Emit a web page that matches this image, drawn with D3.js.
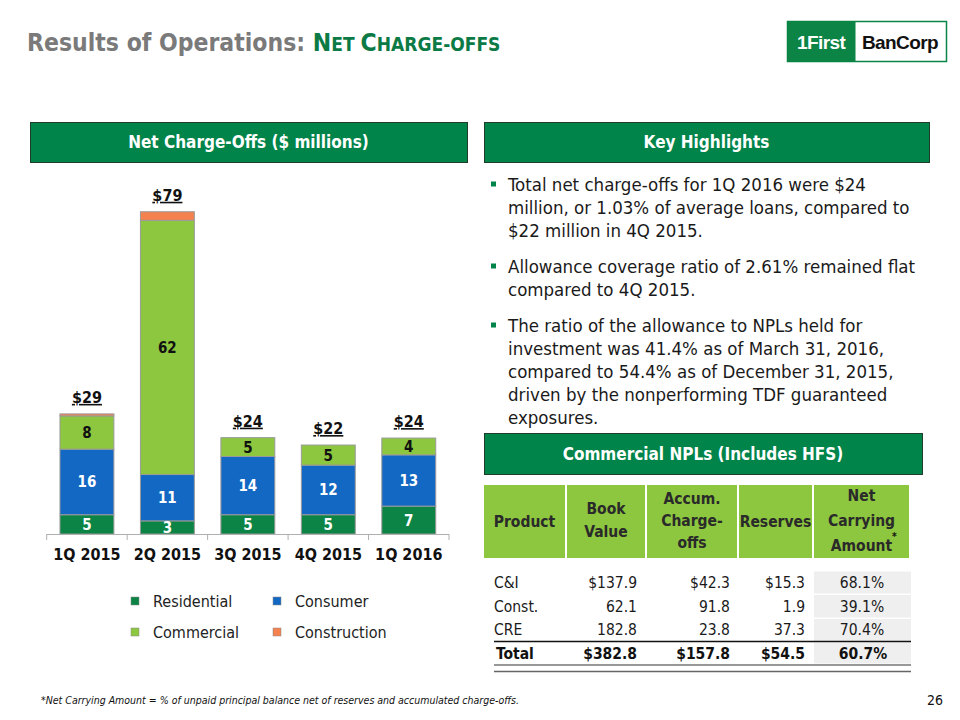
<!DOCTYPE html>
<html><head><meta charset="utf-8">
<script src="https://cdn.jsdelivr.net/npm/d3@7"></script>
<style>
html,body{margin:0;padding:0;background:#fff;}
svg{display:block;font-family:"DejaVu Sans Condensed","DejaVu Sans",sans-serif;}
</style></head>
<body>
<svg id="c" width="960" height="720"></svg>
<script>
// ---- data ----
const quarters = ["1Q 2015","2Q 2015","3Q 2015","4Q 2015","1Q 2016"];
const residential = [4.7, 3.2, 4.7, 4.7, 6.8];
const consumer = [16.0, 11.3, 14.2, 12.1, 12.5];
const commercial = [8.1, 62.0, 4.6, 4.9, 4.1];
const construction = [0.5, 2.1, 0.0, 0.0, 0.0];
const totalLabels = ["$29","$79","$24","$22","$24"];
const seriesNames = ["Residential","Consumer","Commercial","Construction"];
const seriesColors = ["#0B8445","#1368C3","#8DC63F","#F3824F"];
const labelColors = ["#fff","#fff","#111",null];

const bullets = [
  ["Total net charge-offs for 1Q 2016 were $24","million, or 1.03% of average loans, compared to","$22 million in 4Q 2015."],
  ["Allowance coverage ratio of 2.61% remained flat","compared to 4Q 2015."],
  ["The ratio of the allowance to NPLs held for","investment was 41.4% as of March 31, 2016,","compared to 54.4% as of December 31, 2015,","driven by the nonperforming TDF guaranteed","exposures."]
];

const tableHeaders = [["Product"],["Book","Value"],["Accum.","Charge-","offs"],["Reserves"],["Net","Carrying","Amount"]];
const products = ["C&I","Const.","CRE"];
const bookValue = ["$137.9","62.1","182.8"];
const accumChargeoffs = ["$42.3","91.8","23.8"];
const reserves = ["$15.3","1.9","37.3"];
const netCarrying = ["68.1%","39.1%","70.4%"];
const totalRow = ["Total","$382.8","$157.8","$54.5","60.7%"];

(function(){
const svg = d3.select("#c");
const green = "#00844A";

// ---- title ----
const title = svg.append("text").attr("x",27).attr("y",51).attr("font-weight","bold").attr("font-size",24.5);
title.append("tspan").attr("fill","#7a7a7a").text("Results of Operations: ");
const sc = [["N",24.5],["ET ",19],["C",24.5],["HARGE-OFFS",19]];
sc.forEach(([t,s])=>title.append("tspan").attr("fill","#0B7A45").attr("font-size",s).text(t));

// ---- logo ----
const logo = svg.append("g");
logo.append("rect").attr("x",787.5).attr("y",21.5).attr("width",159).attr("height",40).attr("fill","#fff").attr("stroke","#0B8445").attr("stroke-width",1.5);
logo.append("rect").attr("x",787.5).attr("y",21.5).attr("width",68).attr("height",40).attr("fill","#0B8445");
logo.append("text").attr("x",797).attr("y",48.5).attr("fill","#fff").attr("font-family","Liberation Sans, Arial, sans-serif").attr("font-weight","bold").attr("font-size",19).attr("letter-spacing",-0.6).text("1First");
logo.append("text").attr("x",862).attr("y",48.5).attr("fill","#111").attr("font-family","Liberation Sans, Arial, sans-serif").attr("font-weight","bold").attr("font-size",19).attr("letter-spacing",-0.6).text("BanCorp");

// ---- section header boxes ----
function headerBox(x,y,w,h,label){
  svg.append("rect").attr("x",x+0.5).attr("y",y+0.5).attr("width",w).attr("height",h).attr("fill",green).attr("stroke","#1f3d2b").attr("stroke-width",1);
  svg.append("text").attr("x",x+w/2).attr("y",y+h/2+6).attr("text-anchor","middle").attr("fill","#fff").attr("font-weight","bold").attr("font-size",17).text(label);
}
headerBox(30,122,437,40,"Net Charge-Offs ($ millions)");
headerBox(484,122,445,40,"Key Highlights");
headerBox(484,433,438,41,"Commercial NPLs (Includes HFS)");

// ---- stacked bar chart ----
const x = d3.scaleBand().domain(quarters).range([46.7,449]).paddingInner(0.33).paddingOuter(0.165);
const y = d3.scaleLinear().domain([0,80]).range([534,206]);
const seriesData = [residential, consumer, commercial, construction];
const rows = quarters.map((q,i)=>{const o={q}; seriesNames.forEach((s,k)=>o[s]=seriesData[k][i]); return o;});
const stack = d3.stack().keys(seriesNames)(rows);

const gBars = svg.append("g");
stack.forEach((layer,k)=>{
  gBars.selectAll(null).data(layer.filter(d=>d[1]-d[0]>0)).enter().append("rect")
    .attr("x",d=>x(d.data.q)).attr("width",x.bandwidth())
    .attr("y",d=>y(d[1])).attr("height",d=>y(d[0])-y(d[1]))
    .attr("fill",seriesColors[k]).attr("stroke","#9a9a9a").attr("stroke-width",1);
});
stack.forEach((layer,k)=>{
  if(!labelColors[k]) return;
  gBars.selectAll(null).data(layer).enter().append("text")
    .attr("x",d=>x(d.data.q)+x.bandwidth()/2)
    .attr("y",d=>(y(d[0])+y(d[1]))/2+5.5)
    .attr("text-anchor","middle").attr("font-weight","bold").attr("font-size",15)
    .attr("fill",labelColors[k]).text(d=>Math.round(d[1]-d[0]));
});
// totals
const topLayer = stack[stack.length-1];
gBars.selectAll(null).data(topLayer).enter().append("text")
  .attr("x",d=>x(d.data.q)+x.bandwidth()/2)
  .attr("y",(d,i)=>y(d[1])-11)
  .attr("text-anchor","middle").attr("font-weight","bold").attr("font-size",16)
  .attr("fill","#111").attr("text-decoration","underline")
  .text((d,i)=>totalLabels[i]);

// axis
const ax = svg.append("g").attr("transform","translate(0,534)")
  .call(d3.axisBottom(x).tickSize(0).tickPadding(15));
ax.select(".domain").attr("stroke","#b0b0b0").attr("d","M46.7,0.5H449");
ax.selectAll(".tick text").attr("font-size",16).attr("font-weight","bold").attr("fill","#111").attr("font-family","DejaVu Sans Condensed, DejaVu Sans, sans-serif");
const edges = [x.range()[0]].concat(quarters.map(q=>x(q)+x.bandwidth()+x.step()*x.paddingInner()/2));
svg.append("g").selectAll("line").data(edges).enter().append("line")
  .attr("x1",d=>d).attr("x2",d=>d).attr("y1",534).attr("y2",540).attr("stroke","#b0b0b0");

// legend
const legPos = [[135,601],[277,601],[135,632],[277,632]];
seriesNames.forEach((s,k)=>{
  const [lx,ly]=legPos[k];
  svg.append("rect").attr("x",lx-4).attr("y",ly-4).attr("width",8).attr("height",8).attr("fill",seriesColors[k]).attr("stroke","#888").attr("stroke-width",0.5);
  svg.append("text").attr("x",lx+18).attr("y",ly+6).attr("font-size",16).attr("fill","#222").text(s);
});

// ---- bullets ----
let by = 190.5;
const lh = 23;
bullets.forEach((lines,bi)=>{
  svg.append("rect").attr("x",491).attr("y",by-9).attr("width",5).attr("height",5).attr("fill",green);
  lines.forEach((ln,li)=>{
    svg.append("text").attr("x",508).attr("y",by).attr("font-size",18.5).attr("fill","#1a1a1a").text(ln);
    by += lh;
  });
  by += 13;
});

// ---- table ----
const colX = [484,567,647,739,814,911];
const tg = svg.append("g");
const hdrLines = {1:[508,531.7],2:[498,520,542.5],4:[495,520,545]};
tableHeaders.forEach((h,i)=>{
  tg.append("rect").attr("x",colX[i]).attr("y",485).attr("width",colX[i+1]-colX[i]-2).attr("height",73).attr("fill","#8DC63F");
  const cx=(colX[i]+colX[i+1]-2)/2;
  const ys = hdrLines[i] || [521];
  h.forEach((t,j)=>{
    tg.append("text").attr("x",cx).attr("y",ys[j]+5.5)
      .attr("text-anchor","middle").attr("font-weight","bold").attr("font-size",15.5).attr("fill","#2a2a2a").text(t);
  });
});
tg.append("text").attr("x",892).attr("y",540).attr("font-size",10).attr("font-weight","bold").attr("fill","#111").text("*");

const rowY = [582,606,629.5];
[570.5,594,618,641.5].forEach((ry,i)=>{
  tg.append("rect").attr("x",814).attr("y",ry+1).attr("width",97).attr("height",(i<3?[594,618,641.5][i]:664)-ry-1.5).attr("fill","#efefef");
});
const rightEdges=[637,730,805];
products.forEach((p,i)=>{
  const ty=rowY[i]+5.5;
  tg.append("text").attr("x",494).attr("y",ty).attr("font-size",15.5).attr("fill","#1a1a1a").text(p);
  [bookValue,accumChargeoffs,reserves].forEach((arr,c)=>{
    tg.append("text").attr("x",rightEdges[c]).attr("y",ty).attr("text-anchor","end").attr("font-size",15.5).attr("fill","#1a1a1a").text(arr[i]);
  });
  tg.append("text").attr("x",862).attr("y",ty).attr("text-anchor","middle").attr("font-size",15.5).attr("fill","#1a1a1a").text(netCarrying[i]);
});
const tty = 653+5.5;
tg.append("text").attr("x",496).attr("y",tty).attr("font-size",15.5).attr("font-weight","bold").attr("fill","#111").text(totalRow[0]);
[1,2,3].forEach(c=>tg.append("text").attr("x",rightEdges[c-1]).attr("y",tty).attr("text-anchor","end").attr("font-size",15.5).attr("font-weight","bold").attr("fill","#111").text(totalRow[c]));
tg.append("text").attr("x",863).attr("y",tty).attr("text-anchor","middle").attr("font-size",15.5).attr("font-weight","bold").attr("fill","#111").text(totalRow[4]);
tg.append("line").attr("x1",494).attr("x2",911).attr("y1",641.5).attr("y2",641.5).attr("stroke","#111").attr("stroke-width",1.5);
tg.append("line").attr("x1",494).attr("x2",911).attr("y1",665).attr("y2",665).attr("stroke","#333").attr("stroke-width",1);
tg.append("line").attr("x1",494).attr("x2",911).attr("y1",671.5).attr("y2",671.5).attr("stroke","#666").attr("stroke-width",1.5);

// ---- footnote & page number ----
svg.append("text").attr("x",41).attr("y",704).attr("font-size",10.5).attr("font-style","italic").attr("fill","#111").text("*Net Carrying Amount = % of unpaid principal balance net of reserves and accumulated charge-offs.");
svg.append("text").attr("x",943).attr("y",705).attr("text-anchor","end").attr("font-size",14).attr("fill","#111").text("26");
})();
</script>
</body></html>
